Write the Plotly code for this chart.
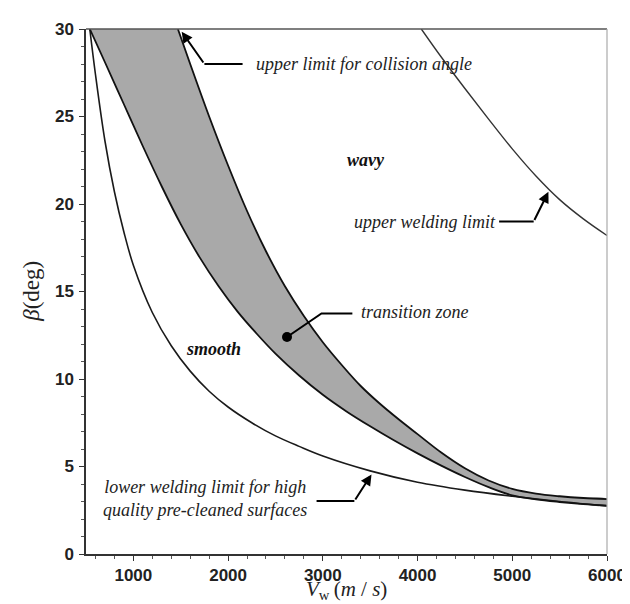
import plotly.graph_objects as go

# ---- data ----
lower_x = [540, 600, 700, 800, 900, 1000, 1200, 1400, 1600, 1800, 2000, 2250, 2500, 2750,
           3000, 3500, 4000, 4500, 5000, 5500, 6000]
lower_y = [30, 27.4, 23.6, 20.7, 18.4, 16.5, 13.8, 11.9, 10.45, 9.3, 8.4, 7.5, 6.75, 6.15,
           5.6, 4.75, 4.1, 3.65, 3.3, 3.0, 2.75]

trans_low_x = [540, 700, 900, 1100, 1300, 1500, 1700, 1900, 2100, 2300, 2500, 2750, 3000,
               3250, 3500, 3750, 4000, 4250, 4500, 4750, 5000, 5250, 5500, 5750, 6000]
trans_low_y = [30, 28.1, 25.7, 23.3, 21.0, 18.85, 16.95, 15.3, 13.85, 12.6, 11.45, 10.2, 9.1,
               8.15, 7.3, 6.5, 5.75, 5.05, 4.4, 3.82, 3.35, 3.12, 2.97, 2.85, 2.76]

collision_x = [1470, 1600, 1800, 2000, 2200, 2400, 2600, 2800, 3000, 3200, 3400, 3600, 3800,
               4000, 4250, 4500, 4750, 5000, 5250, 5500, 5750, 6000]
collision_y = [30, 28.0, 25.0, 22.2, 19.6, 17.3, 15.3, 13.6, 12.1, 10.8, 9.6, 8.6, 7.7,
               6.85, 5.8, 4.9, 4.2, 3.72, 3.45, 3.3, 3.2, 3.14]

upper_x = [4040, 4250, 4500, 4750, 5000, 5250, 5500, 5750, 6000]
upper_y = [30, 28.4, 26.6, 24.85, 23.15, 21.6, 20.25, 19.15, 18.2]

x_ticks = [1000, 2000, 3000, 4000, 5000, 6000]
y_ticks = [0, 5, 10, 15, 20, 25, 30]

SERIF = "Liberation Serif"
SANS = "Liberation Sans"
SMOOTH = 1.0

fig = go.Figure()

# transition zone fill
fig.add_trace(go.Scatter(
    x=trans_low_x + collision_x[::-1], y=trans_low_y + collision_y[::-1],
    fill="toself", fillcolor="#a9a9a9", mode="lines",
    line=dict(width=0, shape="spline", smoothing=SMOOTH), hoverinfo="skip", showlegend=False))

for xs, ys, w, c in [(lower_x, lower_y, 1.6, "#1a1a1a"),
                     (trans_low_x, trans_low_y, 1.8, "#111111"),
                     (collision_x, collision_y, 1.8, "#111111"),
                     (upper_x, upper_y, 1.4, "#333333")]:
    fig.add_trace(go.Scatter(x=xs, y=ys, mode="lines",
                             line=dict(color=c, width=w, shape="spline", smoothing=SMOOTH),
                             showlegend=False, hoverinfo="skip"))

# leader lines (horizontal parts + elbows)
leaders = [
    ([1750, 2153], [28.0, 28.0]),
    ([4861, 5226], [19.0, 19.0]),
    ([2622, 2986, 3312], [12.4, 13.75, 13.75]),
    ([2934, 3333], [3.03, 3.03]),
]
for lx, ly in leaders:
    fig.add_trace(go.Scatter(x=lx, y=ly, mode="lines", line=dict(color="black", width=2),
                             showlegend=False, hoverinfo="skip"))
fig.add_trace(go.Scatter(x=[2622], y=[12.4], mode="markers",
                         marker=dict(color="black", size=10), showlegend=False, hoverinfo="skip"))

anns = []
# arrows
for (tx, ty, sx, sy) in [(1510, 29.85, 1750, 28.0), (5382, 20.7, 5226, 19.0),
                         (3514, 4.55, 3333, 3.03)]:
    anns.append(dict(x=tx, y=ty, ax=sx, ay=sy, xref="x", yref="y", axref="x", ayref="y",
                     text="", showarrow=True, arrowhead=2, arrowsize=1.1, arrowwidth=2,
                     arrowcolor="black"))

tfont = dict(family=SERIF, size=18, color="#222", style="italic")
bfont = dict(family=SERIF, size=18, color="#111", style="italic")
anns += [
    dict(x=2271, y=28.0, text="upper limit for collision angle", xanchor="left",
         showarrow=False, font=tfont),
    dict(x=4844, y=19.0, text="upper welding limit", xanchor="right",
         showarrow=False, font=tfont),
    dict(x=3385, y=13.85, text="transition zone", xanchor="left",
         showarrow=False, font=tfont),
    dict(x=1760, y=3.15, text="lower welding limit for high<br>quality pre-cleaned surfaces",
         xanchor="center", align="center", showarrow=False, font=tfont),
    dict(x=3458, y=22.5, text="<b>wavy</b>", showarrow=False, font=bfont),
    dict(x=1844, y=11.7, text="<b>smooth</b>", showarrow=False, font=bfont),
    # axis titles
    dict(x=0.5, y=-0.068, xref="paper", yref="paper", xanchor="center", yanchor="middle",
         text="<i>V</i><sub>w</sub>\u2009(<i>m</i> / <i>s</i>)", showarrow=False,
         font=dict(family=SERIF, size=21, color="#222")),
    dict(x=-0.105, y=0.5, xref="paper", yref="paper", xanchor="center", yanchor="middle",
         textangle=-90, text="<i>β</i>(deg)", showarrow=False,
         font=dict(family=SERIF, size=23, color="#222")),
]
for a in anns:
    if a.get("xref") is None:
        a["xref"] = "x"
        a["yref"] = "y"

fig.update_layout(
    width=630, height=604,
    margin=dict(l=78, r=24, t=18, b=58),
    plot_bgcolor="white", paper_bgcolor="white",
    annotations=anns,
    shapes=[
        dict(type="line", xref="paper", yref="paper", x0=0, x1=1, y0=1, y1=1,
             line=dict(color="#555", width=1.5)),
        dict(type="line", xref="paper", yref="paper", x0=1, x1=1, y0=0, y1=1,
             line=dict(color="#aaa", width=1.2)),
    ],
)
fig.update_xaxes(range=[500, 6000], tickvals=x_ticks, ticks="outside", ticklen=5,
                 tickcolor="#333", showgrid=False, zeroline=False, showline=True,
                 linecolor="#333", linewidth=1.5,
                 minor=dict(ticks="outside", ticklen=3, dtick=200, tick0=0, tickcolor="#555"),
                 tickfont=dict(family=SANS, size=17, color="#222", weight="bold"))
fig.update_yaxes(range=[0, 30], tickvals=y_ticks, ticks="outside", ticklen=5,
                 tickcolor="#333", showgrid=False, zeroline=False, showline=True,
                 linecolor="#333", linewidth=1.5, ticklabelstandoff=2,
                 minor=dict(ticks="outside", ticklen=3, dtick=1, tick0=0, tickcolor="#555"),
                 tickfont=dict(family=SANS, size=17, color="#222", weight="bold"))

fig.write_html("out.html")
